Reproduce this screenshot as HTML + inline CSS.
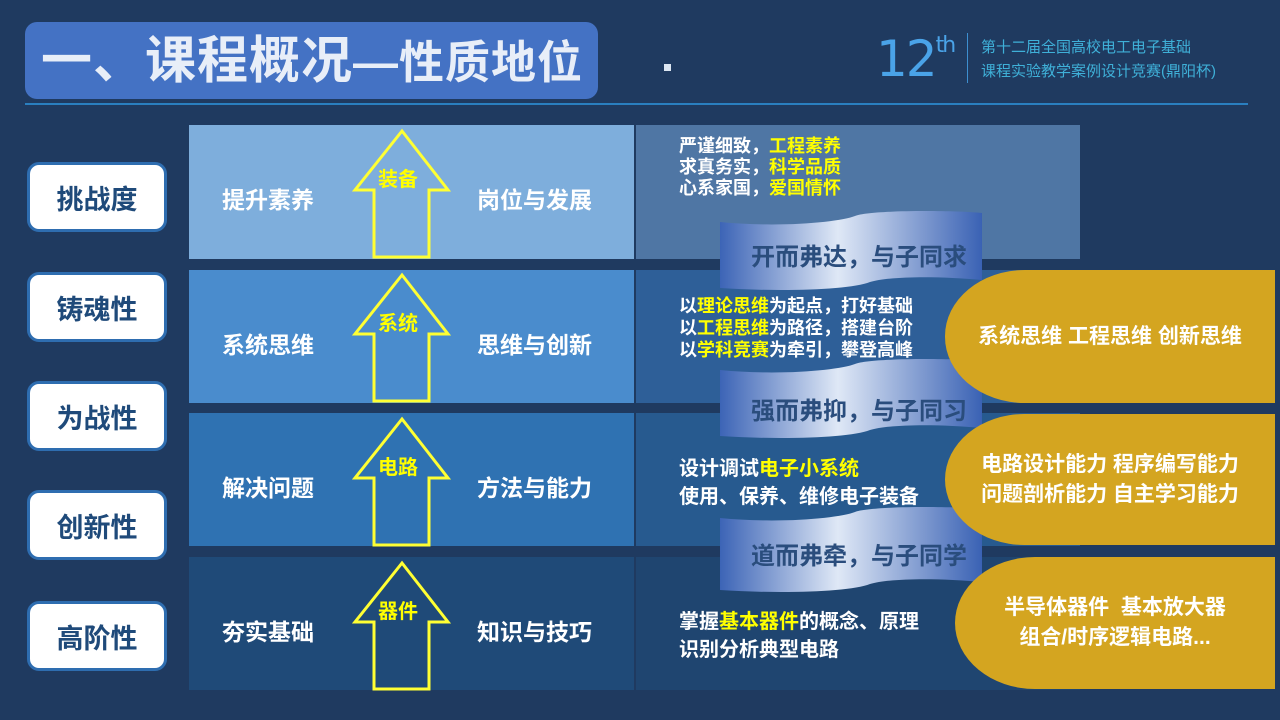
<!DOCTYPE html>
<html><head><meta charset="utf-8"><style>
body{margin:0;width:1280px;height:720px;background:#1f3a60;position:relative;overflow:hidden;font-family:"Liberation Sans","Noto Sans CJK SC",sans-serif;font-weight:bold}
.a{position:absolute}
.lab{position:absolute;left:27px;width:140px;height:70px;background:#fff;border:3px solid #2e6db0;border-radius:12px;box-sizing:border-box;color:#1f4a7a;font-size:27px;display:flex;align-items:center;justify-content:center}
.t{position:absolute;color:#fff;font-size:23px;white-space:nowrap}
.y{color:#ffff00}
.gold{position:absolute;background:#d4a520;border-radius:80px 0 0 80px/66px 0 0 66px;color:#fff;font-size:21px;display:flex;align-items:center;justify-content:center;text-align:center;line-height:30px}
.rib{position:absolute;left:0;top:0}
.rt{position:absolute;color:#2a4d7d;font-size:24px;width:262px;text-align:center;left:728px}
</style></head><body>
<div class="a" style="left:25px;top:22px;width:573px;height:77px;background:#4472c4;border-radius:12px;color:#e8eef8;font-size:51px;line-height:77px;text-indent:16px;letter-spacing:1px;white-space:nowrap;overflow:hidden">一、课程概况<span style="font-size:45px">—性质地位</span></div>
<div class="a" style="left:664px;top:64px;width:7px;height:7px;background:#dce6f2"></div>
<div class="a" style="left:876px;top:30px;color:#4aa3e8;font-size:50px;font-weight:normal;font-family:'DejaVu Sans',sans-serif;letter-spacing:-2px">12<sup style="font-size:22px;position:relative;top:-6px">th</sup></div>
<div class="a" style="left:967px;top:33px;width:1px;height:50px;background:#3d8fd0"></div>
<div class="a" style="left:981px;top:36px;color:#3fb0d8;font-size:15px;font-weight:normal;line-height:24px">第十二届全国高校电工电子基础<br>课程实验教学案例设计竞赛(鼎阳杯)</div>
<div class="a" style="left:25px;top:103px;width:1223px;height:2px;background:#2a7fc0"></div>

<div class="a" style="left:189px;top:125px;width:445px;height:134px;background:#7eaedc"></div>
<div class="a" style="left:636px;top:125px;width:444px;height:134px;background:#4f76a4"></div>
<div class="a" style="left:189px;top:270px;width:445px;height:133px;background:#4a8ccd"></div>
<div class="a" style="left:636px;top:270px;width:444px;height:133px;background:#2e5f98"></div>
<div class="a" style="left:189px;top:413px;width:445px;height:133px;background:#2f72b2"></div>
<div class="a" style="left:636px;top:413px;width:444px;height:133px;background:#275a8f"></div>
<div class="a" style="left:189px;top:557px;width:445px;height:133px;background:#1f4a78"></div>
<div class="a" style="left:636px;top:557px;width:444px;height:133px;background:#1f4570"></div>

<div class="lab" style="top:162px">挑战度</div>
<div class="lab" style="top:272px">铸魂性</div>
<div class="lab" style="top:381px">为战性</div>
<div class="lab" style="top:490px">创新性</div>
<div class="lab" style="top:601px">高阶性</div>

<svg class="rib" width="1280" height="720">
<defs><linearGradient id="g" x1="0" x2="1"><stop offset="0" stop-color="#3c64b6"/><stop offset="0.45" stop-color="#dfe8f6"/><stop offset="1" stop-color="#3a62b4"/></linearGradient></defs>
<g fill="none" stroke="#ffff33" stroke-width="3">
<path d="M402,131 L448,190 L429,190 L429,257 L374,257 L374,190 L355,190 Z"/>
<path d="M402,275 L448,334 L429,334 L429,401 L374,401 L374,334 L355,334 Z"/>
<path d="M402,419 L448,478 L429,478 L429,545 L374,545 L374,478 L355,478 Z"/>
<path d="M402,563 L448,622 L429,622 L429,689 L374,689 L374,622 L355,622 Z"/>
</g>
<g fill="url(#g)">
<path d="M720,222 C780,228 840,222 855,216 C870,210 950,210 982,213 L982,280 C940,276 890,276 870,282 C850,290 780,292 720,288 Z"/>
<path d="M720,370 C780,376 840,370 855,364 C870,358 950,358 982,361 L982,428 C940,424 890,424 870,430 C850,438 780,440 720,436 Z"/>
<path d="M720,518 C780,524 840,518 855,512 C870,506 950,506 982,509 L982,582 C940,578 890,578 870,584 C850,592 780,594 720,590 Z"/>
</g>
</svg>
<div class="t" style="left:222px;top:181px">提升素养</div><div class="t" style="left:477px;top:181px">岗位与发展</div>
<div class="t" style="left:222px;top:326px">系统思维</div><div class="t" style="left:477px;top:326px">思维与创新</div>
<div class="t" style="left:222px;top:469px">解决问题</div><div class="t" style="left:477px;top:469px">方法与能力</div>
<div class="t" style="left:222px;top:613px">夯实基础</div><div class="t" style="left:477px;top:613px">知识与技巧</div>
<div class="t y" style="left:378px;top:163px;font-size:20px">装备</div>
<div class="t y" style="left:378px;top:307px;font-size:20px">系统</div>
<div class="t y" style="left:378px;top:451px;font-size:20px">电路</div>
<div class="t y" style="left:378px;top:595px;font-size:20px">器件</div>

<div class="t" style="left:679px;top:136px;font-size:18px;line-height:21px">严谨细致，<span class="y">工程素养</span><br>求真务实，<span class="y">科学品质</span><br>心系家国，<span class="y">爱国情怀</span></div>
<div class="t" style="left:679px;top:295px;font-size:18px;line-height:22px">以<span class="y">理论思维</span>为起点，打好基础<br>以<span class="y">工程思维</span>为路径，搭建台阶<br>以<span class="y">学科竞赛</span>为牵引，攀登高峰</div>
<div class="t" style="left:679px;top:455px;font-size:20px;line-height:28px">设计调试<span class="y">电子小系统</span><br>使用、保养、维修电子装备</div>
<div class="t" style="left:679px;top:608px;font-size:20px;line-height:28px">掌握<span class="y">基本器件</span>的概念、原理<br>识别分析典型电路</div>

<div class="rt" style="top:237px">开而弗达，与子同求</div>
<div class="rt" style="top:391px">强而弗抑，与子同习</div>
<div class="rt" style="top:536px">道而弗牵，与子同学</div>

<div class="gold" style="left:945px;top:270px;width:330px;height:133px">系统思维 工程思维 创新思维</div>
<div class="gold" style="left:945px;top:414px;width:330px;height:131px">电路设计能力 程序编写能力<br>问题剖析能力 自主学习能力</div>
<div class="gold" style="left:955px;top:557px;width:320px;height:132px">半导体器件&nbsp; 基本放大器<br>组合/时序逻辑电路...</div>
</body></html>
